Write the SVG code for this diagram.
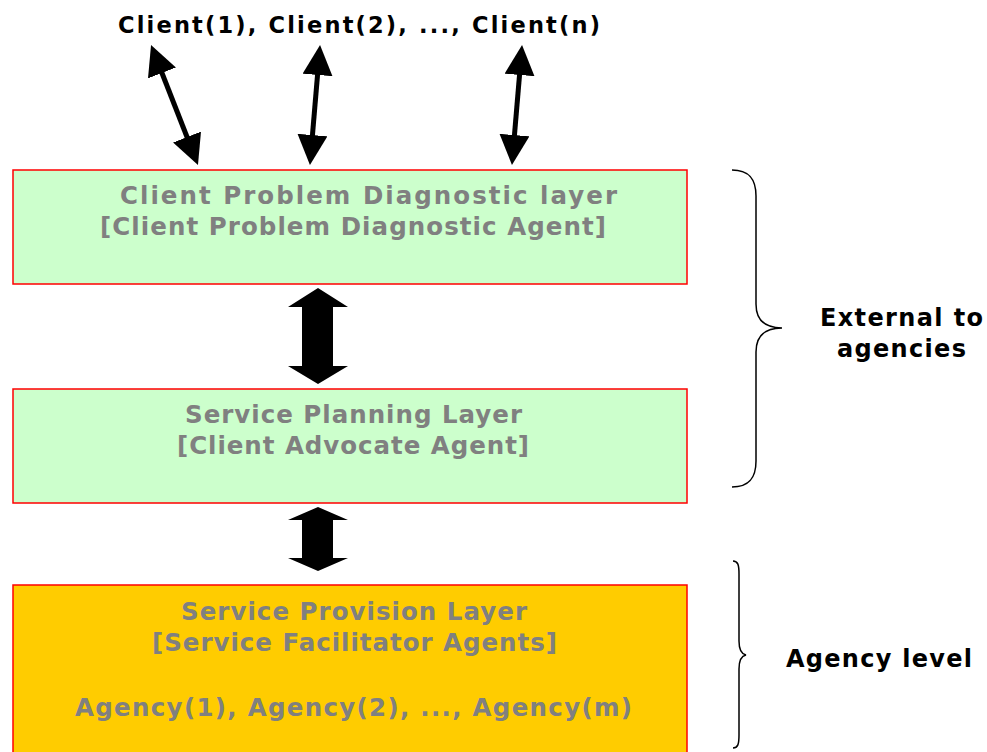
<svg xmlns="http://www.w3.org/2000/svg" width="987" height="752" viewBox="0 0 987 752">
<style>
.box{stroke:#FF0000;stroke-width:1.5}
.g{fill:#CCFFCC}
.y{fill:#FFCC00}
.t{font-family:"DejaVu Sans","Liberation Sans",sans-serif;font-weight:bold;font-size:24.5px;fill:#808080}
.k{font-family:"DejaVu Sans","Liberation Sans",sans-serif;font-weight:bold;font-size:24px;fill:#000000}
.tk{font-family:"DejaVu Sans","Liberation Sans",sans-serif;font-weight:bold;font-size:22.5px;fill:#000000}
.ln{stroke:#000;stroke-width:5;fill:none;marker-start:url(#ah);marker-end:url(#ah)}
.br{stroke:#000;stroke-width:1.5;fill:none}
</style>
<defs>
<marker id="ah" markerUnits="userSpaceOnUse" markerWidth="30" markerHeight="30" viewBox="0 0 30 30" refX="15" refY="15" orient="auto-start-reverse">
<path d="M0,0 L30,15 L0,30 z" fill="#000"/>
</marker>
</defs>
<rect width="987" height="752" fill="#FFFFFF"/>
<text class="tk" x="118" y="33" textLength="482" lengthAdjust="spacing">Client(1), Client(2), ..., Client(n)</text>
<g id="diagnostic">
<rect class="box g" x="13" y="170" width="674" height="114"/>
<text class="t" x="120" y="204" textLength="497" lengthAdjust="spacing">Client Problem Diagnostic layer</text>
<text class="t" x="100" y="235" textLength="506" lengthAdjust="spacing">[Client Problem Diagnostic Agent]</text>
</g>
<g id="planning">
<rect class="box g" x="13" y="389" width="674" height="114"/>
<text class="t" x="185" y="423" textLength="337" lengthAdjust="spacing">Service Planning Layer</text>
<text class="t" x="177" y="454" textLength="352" lengthAdjust="spacing">[Client Advocate Agent]</text>
</g>
<g id="provision">
<rect class="box y" x="13" y="585" width="674" height="175"/>
<text class="t" x="181" y="620" textLength="346" lengthAdjust="spacing">Service Provision Layer</text>
<text class="t" x="152" y="651" textLength="405" lengthAdjust="spacing">[Service Facilitator Agents]</text>
<text class="t" x="75" y="716" textLength="557" lengthAdjust="spacing">Agency(1), Agency(2), ..., Agency(m)</text>
</g>
<g id="connectors">
<line class="ln" x1="156.5" y1="59" x2="192.5" y2="151"/>
<line class="ln" x1="318.8" y1="60" x2="311.2" y2="150"/>
<line class="ln" x1="520.8" y1="60" x2="513.2" y2="150"/>
<polygon fill="#000" points="318,288 348,307 333,307 333,366 348,366 318,384 288,366 302,366 302,307 288,307"/>
<polygon fill="#000" points="318,507 348,520 333,520 333,558 348,558 318,571 288,558 302,558 302,520 288,520"/>
</g>
<g id="external">
<path class="br" d="M732,170 C750,170 756,180 756,196 L756,304 C756,320 764,328 782,328 C764,328 756,336 756,352 L756,461 C756,477 750,487 732,487"/>
<text class="k" x="820" y="326" textLength="163" lengthAdjust="spacing">External to</text>
<text class="k" x="837" y="357" textLength="129" lengthAdjust="spacing">agencies</text>
</g>
<g id="agency">
<path class="br" d="M733,561 C738,561 739,565 739,574 L739,641 C739,650 741,654 746,655 C741,656 739,660 739,669 L739,735 C739,744 738,748 733,748"/>
<text class="k" x="786" y="667" textLength="186" lengthAdjust="spacing">Agency level</text>
</g>
</svg>
